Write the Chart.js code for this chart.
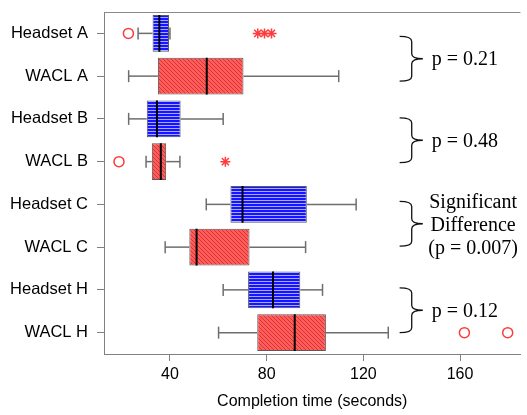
<!DOCTYPE html>
<html>
<head>
<meta charset="utf-8">
<script src="https://cdn.jsdelivr.net/npm/chart.js@4.4.1/dist/chart.umd.min.js"></script>
<style>
    html, body { margin: 0; padding: 0; background: #fff; }
    canvas { display: block; }
</style>
</head>
<body>
<canvas id="tiempos" width="527" height="415"></canvas>
<script>
const categories = ['Headset A', 'WACL A', 'Headset B', 'WACL B', 'Headset C', 'WACL C', 'Headset H', 'WACL H'];
const whiskerLow  = [26.8, 22.9, 22.9, 30.1, 55.0, 38.0, 62.0, 60.1];
const q1          = [32.8, 35.0, 30.4, 32.5, 65.0, 48.0, 72.3, 76.1];
const median      = [35.6, 55.2, 34.6, 36.2, 70.0, 51.0, 82.6, 91.6];
const q3          = [39.6, 70.4, 44.4, 38.4, 96.6, 72.9, 93.9, 104.5];
const whiskerHigh = [40.0, 109.8, 62.0, 44.1, 117.0, 96.1, 103.1, 130.3];
const outlierCircles = [
    {x: 22.8, y: 'Headset A'},
    {x: 18.9, y: 'WACL B'},
    {x: 161.8, y: 'WACL H'},
    {x: 179.7, y: 'WACL H'}
];
const outlierStars = [
    {x: 76.3, y: 'Headset A'},
    {x: 79.1, y: 'Headset A'},
    {x: 82.0, y: 'Headset A'},
    {x: 62.9, y: 'WACL B'}
];
const xTicks = [40, 80, 120, 160];
const pairs = [[0, 1], [2, 3], [4, 5], [6, 7]];
const pTexts = [['p = 0.21'], ['p = 0.48'], ['Significant', 'Difference', '(p = 0.007)'], ['p = 0.12']];

function makePattern(base, line, kind) {
    const c = document.createElement('canvas');
    c.width = 4; c.height = kind === 'h' ? 3 : 4;
    const g = c.getContext('2d');
    g.fillStyle = base;
    g.fillRect(0, 0, c.width, c.height);
    g.fillStyle = line;
    if (kind === 'h') {
        g.fillRect(0, 2, 4, 1);
    } else {
        for (let i = 0; i < 4; i++) g.fillRect(i, i, 1, 1);
    }
    return g.createPattern(c, 'repeat');
}

const bluePattern = makePattern('#1515ff', '#a9a9ff', 'h');
const redPattern = makePattern('#ff5c5c', '#d83232', 'd');

function line(ctx, x1, y1, x2, y2) {
    ctx.beginPath();
    ctx.moveTo(x1, y1);
    ctx.lineTo(x2, y2);
    ctx.stroke();
}

const boxExtras = {
    id: 'boxExtras',
    afterDatasetsDraw(chart) {
        const {ctx, chartArea, scales: {x, y}} = chart;
        const meta = chart.getDatasetMeta(0);
        ctx.save();
        ctx.strokeStyle = '#8a8a8a';
        ctx.lineWidth = 1;
        line(ctx, chartArea.left, chartArea.top + 0.5, chartArea.right, chartArea.top + 0.5);

        categories.forEach((c, i) => {
            const cy = y.getPixelForValue(i);
            const half = meta.data[i].height / 2;
            const lo = x.getPixelForValue(whiskerLow[i]);
            const hi = x.getPixelForValue(whiskerHigh[i]);
            ctx.strokeStyle = '#6e6e6e';
            ctx.lineWidth = 1.5;
            line(ctx, lo, cy, x.getPixelForValue(q1[i]), cy);
            line(ctx, x.getPixelForValue(q3[i]), cy, hi, cy);
            line(ctx, lo, cy - 6, lo, cy + 6);
            line(ctx, hi, cy - 6, hi, cy + 6);
            ctx.strokeStyle = '#000';
            ctx.lineWidth = 2;
            const mx = x.getPixelForValue(median[i]);
            line(ctx, mx, cy - half, mx, cy + half);
        });
        ctx.restore();
    }
};

const shifts = [4, 0, -2, -1];
const pBraces = {
    id: 'pBraces',
    afterDraw(chart) {
        const {ctx, scales: {x, y}} = chart;
        const x0 = x.getPixelForValue(135);
        const x1 = x.getPixelForValue(140);
        const x2 = x.getPixelForValue(144.6);
        ctx.save();
        ctx.strokeStyle = '#111';
        ctx.lineWidth = 1.3;
        ctx.fillStyle = '#000';
        ctx.font = '20px "Liberation Serif", "Times New Roman", serif';
        ctx.textBaseline = 'middle';
        pairs.forEach((p, k) => {
            const top = y.getPixelForValue(p[0]) + shifts[k] - 1;
            const bot = y.getPixelForValue(p[1]) + shifts[k] + 1;
            const mid = (top + bot) / 2;
            const r = 5;
            ctx.beginPath();
            ctx.moveTo(x0, top);
            ctx.quadraticCurveTo(x1, top, x1, top + r);
            ctx.lineTo(x1, mid - r);
            ctx.quadraticCurveTo(x1, mid, x2, mid);
            ctx.quadraticCurveTo(x1, mid, x1, mid + r);
            ctx.lineTo(x1, bot - r);
            ctx.quadraticCurveTo(x1, bot, x0, bot);
            ctx.stroke();

            const lines = pTexts[k];
            if (lines.length === 1) {
                ctx.textAlign = 'left';
                ctx.fillText(lines[0], x.getPixelForValue(148.3), mid + 1);
            } else {
                ctx.textAlign = 'center';
                lines.forEach((t, j) => {
                    ctx.fillText(t, x.getPixelForValue(165.4), mid + 2 + (j - 1) * 23);
                });
            }
        });
        ctx.restore();
    }
};

function drawChart() {
    const ctx = document.getElementById('tiempos');
    new Chart(ctx, {
        type: 'bar',
        data: {
            labels: categories,
            datasets: [
                {
                    type: 'bar',
                    indexAxis: 'y',
                    data: categories.map((c, i) => [q1[i], q3[i]]),
                    backgroundColor: categories.map(c => c.startsWith('Headset') ? bluePattern : redPattern),
                    borderColor: '#5a5a5a',
                    borderWidth: 1,
                    borderSkipped: false,
                    categoryPercentage: 1,
                    barPercentage: 0.86
                },
                {
                    type: 'scatter',
                    data: outlierCircles,
                    pointStyle: 'circle',
                    pointRadius: 5,
                    pointBorderWidth: 1.5,
                    pointBorderColor: '#ff3b3b',
                    pointBackgroundColor: 'rgba(0,0,0,0)'
                },
                {
                    type: 'scatter',
                    data: outlierStars,
                    pointStyle: 'star',
                    pointRadius: 5,
                    pointBorderWidth: 1.5,
                    pointBorderColor: '#ff3b3b',
                    pointBackgroundColor: 'rgba(0,0,0,0)'
                }
            ]
        },
        options: {
            responsive: false,
            animation: false,
            layout: {padding: {top: 12, left: 0, right: 0, bottom: 0}},
            plugins: {
                legend: {display: false},
                tooltip: {enabled: false}
            },
            scales: {
                x: {
                    type: 'linear',
                    position: 'bottom',
                    offset: false,
                    min: 12.7,
                    max: 185,
                    afterFit: s => { s.height = 61; s.paddingRight = 0; s.paddingLeft = 0; },
                    afterBuildTicks: s => { s.ticks = xTicks.map(v => ({value: v})); },
                    grid: {drawOnChartArea: false, offset: false, tickLength: 7, color: '#808080'},
                    border: {color: '#808080'},
                    ticks: {color: '#000', font: {family: '"Liberation Sans", Arial, sans-serif', size: 16}, padding: 4},
                    title: {
                        display: true,
                        text: 'Completion time (seconds)',
                        color: '#000',
                        font: {family: '"Liberation Sans", Arial, sans-serif', size: 16},
                        padding: {top: 0, bottom: 4}
                    }
                },
                y: {
                    type: 'category',
                    position: 'left',
                    labels: categories,
                    afterFit: s => { s.width = 104; s.paddingTop = 0; s.paddingBottom = 0; },
                    grid: {drawOnChartArea: false, offset: false, tickLength: 7, color: '#808080'},
                    border: {color: '#808080'},
                    ticks: {color: '#000', font: {family: '"Liberation Sans", Arial, sans-serif', size: 16.5}, padding: 9}
                }
            }
        },
        plugins: [boxExtras, pBraces]
    });
}

window.addEventListener('load', evt => drawChart());
</script>
</body>
</html>
